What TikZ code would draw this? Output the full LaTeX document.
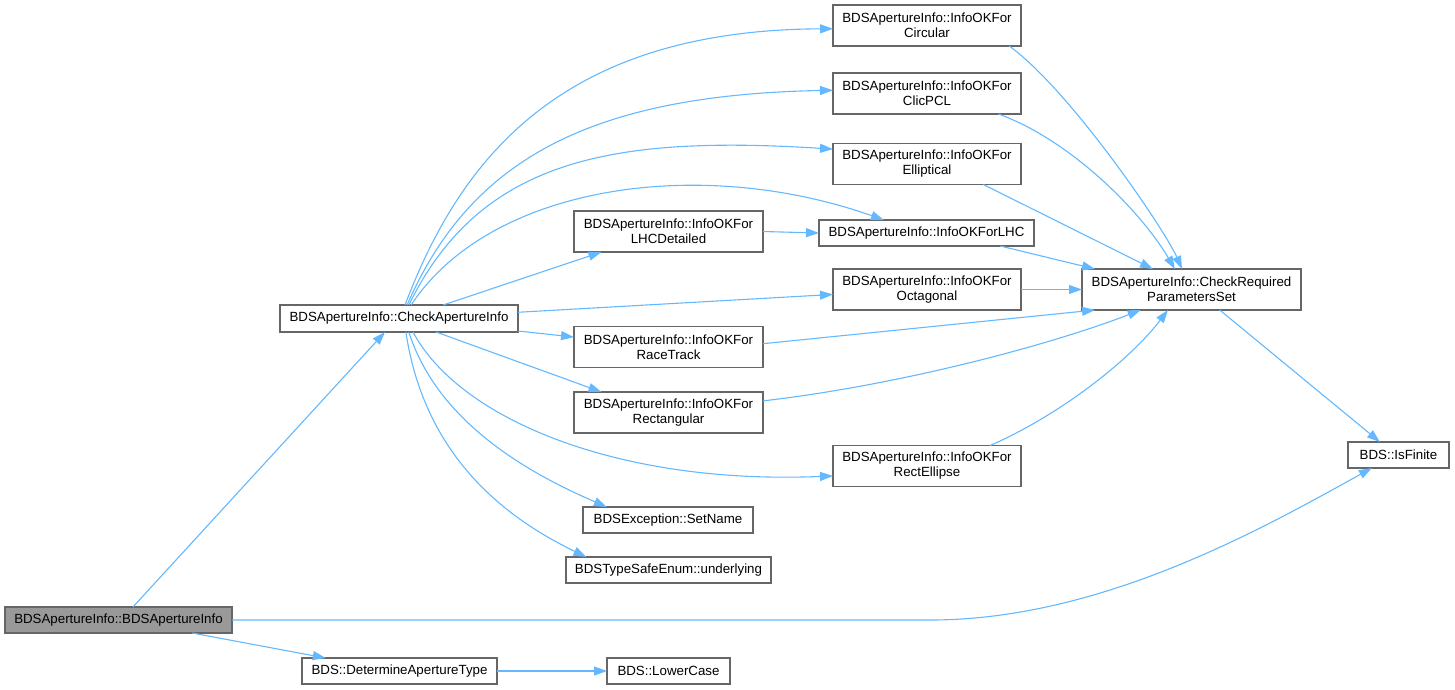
\documentclass[tikz,border=0pt]{standalone}
\usepackage{fontspec}
\setmainfont{Liberation Sans}
\usetikzlibrary{arrows.meta}
\definecolor{edgeblue}{HTML}{63B8FF}
\definecolor{boxgray}{HTML}{666666}
\definecolor{mainfill}{HTML}{999999}

\begin{document}
\begin{tikzpicture}[x=1pt,y=-1pt,
	fn/.style={draw=boxgray,line width=1.3pt,fill=white,inner sep=0pt,outer sep=0pt,minimum height=26pt,align=center,font=\fontsize{13.3}{15}\selectfont},
	fntwo/.style={fn,minimum height=41pt},
	call/.style={draw=edgeblue,line width=1.1pt,-{Triangle[length=13pt,width=9pt]}}]
	\useasboundingbox (0,0) rectangle (1455,689);
	\node (main) at (118.5,620)[fn,fill=mainfill,minimum width=227pt] {BDSApertureInfo::BDSApertureInfo};
	\node (check) at (399,318.5)[fn,minimum width=238pt,minimum height=27pt] {BDSApertureInfo::CheckApertureInfo};
	\node (determine) at (399.5,671)[fn,minimum width=195pt] {BDS::DetermineApertureType};
	\node (lower) at (668.5,671)[fn,minimum width=123pt] {BDS::LowerCase};
	\node (circular) at (927,25.5)[fntwo,minimum width=188pt] {BDSApertureInfo::InfoOKFor\\Circular};
	\node (clicpcl) at (927,93.5)[fntwo,minimum width=188pt] {BDSApertureInfo::InfoOKFor\\ClicPCL};
	\node (elliptical) at (927,164)[fntwo,minimum width=188pt] {BDSApertureInfo::InfoOKFor\\Elliptical};
	\node (lhc) at (926.5,233)[fn,minimum width=215pt] {BDSApertureInfo::InfoOKForLHC};
	\node (lhcdet) at (668.5,231.5)[fntwo,minimum width=189pt] {BDSApertureInfo::InfoOKFor\\LHCDetailed};
	\node (octagonal) at (927,289.5)[fntwo,minimum width=188pt] {BDSApertureInfo::InfoOKFor\\Octagonal};
	\node (racetrack) at (668.5,347)[fntwo,minimum width=189pt] {BDSApertureInfo::InfoOKFor\\RaceTrack};
	\node (rectangular) at (668.5,412.5)[fntwo,minimum width=189pt] {BDSApertureInfo::InfoOKFor\\Rectangular};
	\node (rectellipse) at (927,466)[fntwo,minimum width=188pt] {BDSApertureInfo::InfoOKFor\\RectEllipse};
	\node (setname) at (668,520)[fn,minimum width=170pt] {BDSException::SetName};
	\node (underlying) at (668.5,570)[fn,minimum width=205pt] {BDSTypeSafeEnum::underlying};
	\node (checkreq) at (1191.5,289.5)[fntwo,minimum width=219pt] {BDSApertureInfo::CheckRequired\\ParametersSet};
	\node (isfinite) at (1398.5,455)[fn,minimum width=101pt] {BDS::IsFinite};
	% calls from the constructor
	\draw[call] (main.42) -- (check.224);
	\coordinate (bend) at (930,620);
	\draw[call] (main.east) -- (bend) .. controls (1100,620) and (1260,530) .. (isfinite.206);
	\draw[call] (main.350) -- (determine.170);
	\draw[call] (determine.east) -- (lower.west);
	% calls from CheckApertureInfo
	\draw[call] (check.66) .. controls (460,160) and (560,30) .. (circular.182);
	\draw[call] (check.59) .. controls (470,160) and (590,95) .. (clicpcl.178);
	\draw[call] (check.54) .. controls (480,160) and (610,135) .. (elliptical.171);
	\draw[call] (check.48) .. controls (490,185) and (700,155) .. (lhc.163);
	\draw[call] (check.17) -- (lhcdet.197);
	\draw[call] (check.3) -- (octagonal.183);
	\draw[call] (check.354) -- (racetrack.174);
	\draw[call] (check.340) -- (rectangular.163);
	\draw[call] (check.316) .. controls (460,420) and (620,485) .. (rectellipse.186);
	\draw[call] (check.306) .. controls (440,430) and (545,480) .. (setname.168);
	\draw[call] (check.297) .. controls (425,460) and (510,520) .. (underlying.171);
	\draw[call] (lhcdet.east) -- (lhc.west);
	% into CheckRequiredParametersSet
	\draw[call] (circular.346) .. controls (1070,90) and (1165,230) .. (checkreq.115);
	\draw[call] (clicpcl.344) .. controls (1070,140) and (1140,210) .. (checkreq.129);
	\draw[call] (elliptical.340) -- (checkreq.152);
	\draw[call] (lhc.350) -- (checkreq.168);
	\draw[call] (octagonal.east) -- (checkreq.west);
	\draw[call] (racetrack.2) -- (checkreq.192);
	\draw[call] (rectangular.7) .. controls (900,385) and (1050,345) .. (checkreq.202);
	\draw[call] (rectellipse.18) .. controls (1060,415) and (1130,360) .. (checkreq.221);
	\draw[call] (checkreq.324) -- (isfinite.145);
\end{tikzpicture}
\end{document}
